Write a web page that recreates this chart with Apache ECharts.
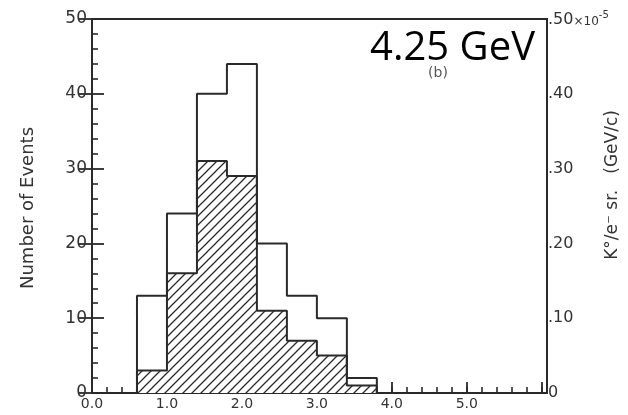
<!DOCTYPE html>
<html>
<head>
<meta charset="utf-8">
<script src="https://cdn.jsdelivr.net/npm/echarts@6/dist/echarts.min.js"></script>
<style>
html,body{margin:0;padding:0;background:#fff;}
#chart{width:628px;height:415px;}
</style>
</head>
<body>
<div id="chart"></div>
<script>
// ---- data ----
const binEdges = [0.6, 1.0, 1.4, 1.8, 2.2, 2.6, 3.0, 3.4, 3.8];
const totalEvents = [13, 24, 40, 44, 20, 13, 10, 2];
const hatchedEvents = [3, 16, 31, 29, 11, 7, 5, 1];
const xTickLabels = ['0.0', '1.0', '2.0', '3.0', '4.0', '5.0'];
const leftTickLabels = ['0', '10', '20', '30', '40', '50'];
const rightTickLabels = ['0', '.10', '.20', '.30', '.40', '.50'];
const titleText = '4.25 GeV';
const panelText = '(b)';
const leftTitle = 'Number of Events';
const rightTitle = 'K°/e⁻ sr.   (GeV/c)';

function stepPoints(edges, vals) {
  const pts = [[edges[0], 0]];
  vals.forEach((v, i) => { pts.push([edges[i], v]); pts.push([edges[i + 1], v]); });
  pts.push([edges[edges.length - 1], 0]);
  return pts;
}

// hatch pattern
const pc = document.createElement('canvas');
pc.width = 9; pc.height = 9;
const g = pc.getContext('2d');
g.strokeStyle = '#2a2a2a';
g.lineWidth = 1.3;
g.beginPath();
g.moveTo(0, 9); g.lineTo(9, 0);
g.moveTo(-2, 2); g.lineTo(2, -2);
g.moveTo(7, 11); g.lineTo(11, 7);
g.stroke();

const ink = '#2a2a2a';
const chart = echarts.init(document.getElementById('chart'), null, {renderer: 'canvas'});
chart.setOption({
  animation: false,
  backgroundColor: '#fff',
  grid: {left: 92, right: 81, top: 19, bottom: 22, show: true, borderColor: ink, borderWidth: 2, containLabel: false},
  xAxis: [
    {
      type: 'value', min: 0, max: 6.07, interval: 1,
      axisLine: {lineStyle: {color: ink, width: 2}},
      axisTick: {inside: true, length: 11, lineStyle: {color: ink, width: 1.8}},
      splitLine: {show: false},
      axisLabel: {
        color: '#333', fontSize: 14, fontFamily: 'DejaVu Sans', margin: 4,
        formatter: v => { const i = Math.round(v); return (Math.abs(v - i) < 1e-6 && i < xTickLabels.length) ? xTickLabels[i] : ''; }
      }
    },
    {
      type: 'value', min: 0, max: 6.07, interval: 0.2, position: 'bottom',
      axisLine: {show: false},
      axisTick: {inside: true, length: 6, lineStyle: {color: ink, width: 1.6}},
      axisLabel: {show: false},
      splitLine: {show: false}
    }
  ],
  yAxis: [
    {
      type: 'value', min: 0, max: 50, interval: 10, position: 'left',
      axisLine: {show: true, lineStyle: {color: ink, width: 2}},
      axisTick: {show: true, inside: true, length: 12, lineStyle: {color: ink, width: 1.8}},
      minorTick: {show: true, splitNumber: 5, length: 6, lineStyle: {color: ink, width: 1.6}},
      splitLine: {show: false},
      axisLabel: {
        color: '#333', fontSize: 17, fontFamily: 'DejaVu Sans', margin: 5,
        formatter: v => leftTickLabels[Math.round(v / 10)]
      }
    },
    {
      type: 'value', min: 0, max: 0.5, interval: 0.1, position: 'right',
      axisLine: {show: true, lineStyle: {color: ink, width: 2}},
      axisTick: {show: true, inside: true, length: 13, lineStyle: {color: ink, width: 1.8}},
      splitLine: {show: false},
      axisLabel: {
        color: '#333', fontSize: 16, fontFamily: 'DejaVu Sans', margin: 1,
        formatter: v => {
          const i = Math.round(v * 10);
          if (i === 5) return '{a|' + rightTickLabels[i] + '}{b|×10}{c|-5}';
          return rightTickLabels[i];
        },
        rich: {
          a: {fontSize: 16, color: '#333', fontFamily: 'DejaVu Sans', verticalAlign: 'bottom'},
          b: {fontSize: 12, color: '#333', fontFamily: 'DejaVu Sans', verticalAlign: 'bottom'},
          c: {fontSize: 10, color: '#333', fontFamily: 'DejaVu Sans', verticalAlign: 'top', padding: [0, 0, 8, 0]}
        }
      }
    }
  ],
  series: [
    {
      type: 'line', xAxisIndex: 0, yAxisIndex: 0,
      data: stepPoints(binEdges, totalEvents),
      symbol: 'none', z: 2,
      lineStyle: {color: ink, width: 2},
      areaStyle: {color: '#fff', opacity: 1}
    },
    {
      type: 'line', xAxisIndex: 0, yAxisIndex: 0,
      data: stepPoints(binEdges, hatchedEvents),
      symbol: 'none', z: 3,
      lineStyle: {color: ink, width: 2},
      areaStyle: {color: {image: pc, repeat: 'repeat'}, opacity: 1}
    }
  ],
  graphic: [
    {type: 'text', x: 535, y: 49, z: 10,
     style: {text: titleText, font: '40px "Open Sans"', fill: '#000', textAlign: 'right', textVerticalAlign: 'middle'}},
    {type: 'text', x: 438, y: 73, z: 10,
     style: {text: panelText, font: '14px "DejaVu Sans"', fill: '#555', textAlign: 'center', textVerticalAlign: 'middle'}},
    {type: 'text', x: 28, y: 208, rotation: Math.PI / 2,
     style: {text: leftTitle, font: '18px "DejaVu Sans"', fill: '#333', textAlign: 'center', textVerticalAlign: 'middle'}},
    {type: 'text', x: 613, y: 185, rotation: Math.PI / 2,
     style: {text: rightTitle, font: '17px "DejaVu Sans"', fill: '#333', textAlign: 'center', textVerticalAlign: 'middle'}}
  ]
});
</script>
</body>
</html>
